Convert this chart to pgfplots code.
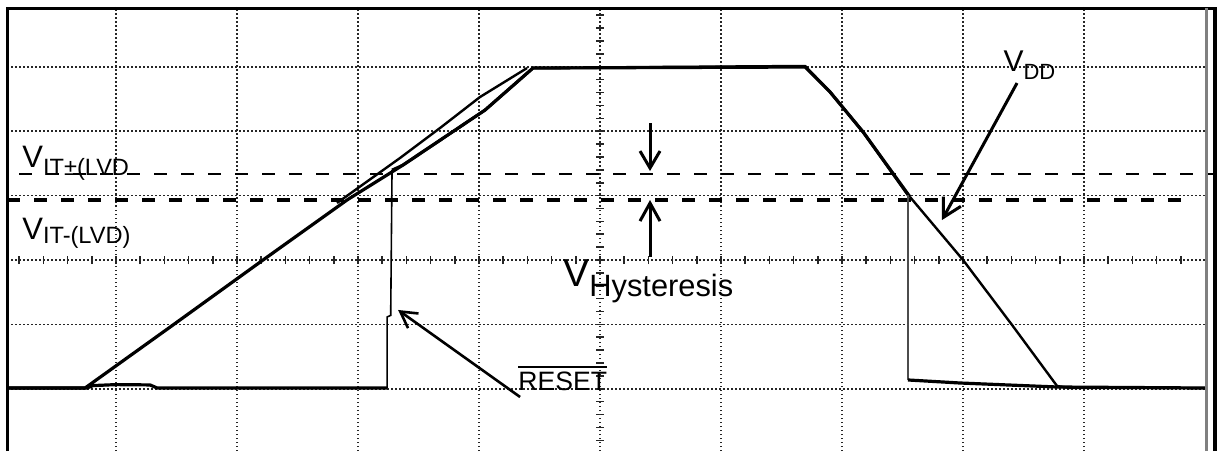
\documentclass[border=0pt]{standalone}
\usepackage{fontspec}
\setmainfont{Liberation Sans}
\usepackage{pgfplots}
\pgfplotsset{compat=1.18}
\usetikzlibrary{arrows.meta}

\begin{document}
\begin{tikzpicture}
\useasboundingbox (-3.5pt,0pt) rectangle (606pt,225.5pt);
\begin{axis}[
  at={(0pt,0pt)}, anchor=south west,
  scale only axis, width=599.5pt, height=222pt,
  xmin=-4.901, xmax=5.008, ymin=-2.966, ymax=3.929,
  xtick={-4,...,4}, ytick={-2,...,3},
  xticklabels={}, yticklabels={},
  major tick length=0pt,
  grid=major,
  major grid style={black!85, line width=0.75pt, dash pattern=on 0.75pt off 1.25pt},
  axis line style={draw=none},
  clip=false,
]
% centre-line ticks
\pgfplotsinvokeforeach{-24,...,24}{\draw[line width=0.8pt, black!85] (axis cs:{#1*0.2},0) ++(0pt,-2pt) -- ++(0pt,4pt);}
\pgfplotsinvokeforeach{-14,...,19}{\draw[line width=0.8pt, black!85] (axis cs:0,{#1*0.2}) ++(-2pt,0pt) -- ++(4pt,0pt);}

% threshold levels
\addplot[black, mark=none, line width=1pt, dash pattern=on 6.5pt off 7pt, dash phase=-3pt]
  coordinates {(-4.851,1.335) (5.083,1.335)};
\addplot[black, mark=none, line width=2.1pt, dash pattern=on 6.5pt off 7pt]
  coordinates {(-4.901,0.932) (4.917,0.932)};

% VDD trace
\addplot[black, mark=none, line width=1.6pt, line join=round] coordinates {
  (-4.901,-1.988) (-4.256,-1.988) (-3.529,-1.009) (-2.785,0) (-2.091,0.932)
  (-1.628,1.475) (-0.950,2.329) (-0.554,2.981) (1.694,2.997) (1.901,2.609)
  (2.174,1.988) (2.562,0.978)};
\addplot[black, mark=none, line width=1.2pt, line join=round] coordinates {
  (2.562,0.978) (3.000,0) (3.405,-1.009) (3.777,-1.957) (3.884,-1.988) (5.008,-1.988)};
% second sweep of VDD near the top of the ramp
\addplot[black, mark=none, line width=1.2pt, line join=round] coordinates {
  (-2.174,0.885) (-1.653,1.584) (-1.322,2.050) (-0.992,2.531) (-0.603,2.981)};

% RESET trace
\addplot[black, mark=none, line width=1.6pt, line join=round] coordinates {
  (-4.901,-1.988) (-4.240,-1.988) (-4.190,-1.950) (-4.000,-1.935) (-3.719,-1.940) (-3.660,-1.988) (-1.760,-1.988)};
\addplot[black, mark=none, line width=0.8pt] coordinates {
  (-1.760,-1.988) (-1.760,-0.885) (-1.730,-0.860) (-1.719,1.398)};
\addplot[black, mark=none, line width=1.4pt, line join=round] coordinates {
  (-1.719,1.398) (-1.628,1.475) (-0.950,2.329) (-0.554,2.981)
  (1.694,3.010) (1.901,2.609) (2.174,1.988) (2.545,1.009)};
\addplot[black!70, mark=none, line width=0.9pt] coordinates {
  (2.545,1.009) (2.545,-1.863)};
\addplot[black, mark=none, line width=1.6pt, line join=round] coordinates {
  (2.545,-1.863) (2.975,-1.910) (3.777,-1.972) (5.008,-1.988)};

% frame
\draw[line width=1.5pt] (axis cs:-4.901,-2.966) -- (axis cs:-4.901,3.913) -- (axis cs:5.099,3.913);
\draw[line width=1.5pt, black!50] (axis cs:5.008,-2.966) -- (axis cs:5.008,3.913);
\draw[line width=2pt] (axis cs:5.083,-2.966) -- (axis cs:5.083,3.913);

% arrows
\draw[line width=1.5pt, -{Straight Barb[length=8.5pt,width=10pt]}] (axis cs:0.413,2.127) -- (axis cs:0.413,1.382);
\draw[line width=1.5pt, -{Straight Barb[length=9pt,width=10pt]}] (axis cs:0.413,0.047) -- (axis cs:0.413,0.932);
\draw[line width=1.3pt, -{Straight Barb[length=8pt,width=9pt]}] (axis cs:-0.661,-2.127) -- (axis cs:-1.669,-0.776);
\draw[line width=1.5pt, -{Straight Barb[length=9pt,width=10pt]}] (axis cs:3.446,2.748) -- (axis cs:2.826,0.621);

% labels
\node[anchor=base west, inner sep=0pt] at (axis cs:-4.777,1.444)
  {\fontsize{15.5}{18}\selectfont V\raisebox{-4pt}{\fontsize{11.8}{14}\selectfont IT±(LVD}};
\node[anchor=base west, inner sep=0pt] at (axis cs:-4.777,0.326)
  {\fontsize{15.5}{18}\selectfont V\raisebox{-2pt}{\fontsize{11.8}{14}\selectfont IT-(LVD)}};
\node[anchor=base west, inner sep=0pt] at (axis cs:-0.306,-0.419)
  {\fontsize{19.5}{22}\selectfont V\raisebox{-5pt}{\fontsize{15.4}{18}\selectfont Hysteresis}};
\node[anchor=base west, inner sep=0pt] at (axis cs:3.331,2.935)
  {\fontsize{15}{17}\selectfont V\raisebox{-4pt}{\fontsize{11}{13}\selectfont DD}};
\node[anchor=base west, inner sep=0pt] at (axis cs:-0.678,-2.019)
  {\fontsize{13.3}{16}\selectfont\setbox0\hbox{RESET}\rlap{\raisebox{11.2pt}{\rule{\wd0}{0.7pt}}}\box0};
\end{axis}
\end{tikzpicture}
\end{document}
